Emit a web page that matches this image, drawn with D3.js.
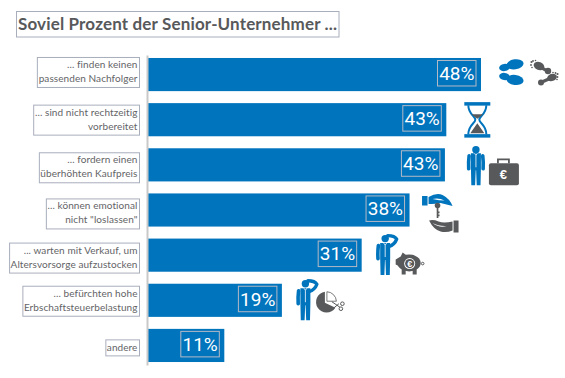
<!DOCTYPE html>
<html>
<head>
<meta charset="utf-8">
<script src="https://cdn.jsdelivr.net/npm/d3@7"></script>
<style>
html, body { margin: 0; padding: 0; background: #fff; }
svg { display: block; }
</style>
</head>
<body>
<div class="container"></div>
<script>
const WIDTH = 565;
const HEIGHT = 378;
const BLUE = '#0074bd';
const GREY = '#58595b';
const FRAME = '#a9aebd';

const title = 'Soviel Prozent der Senior-Unternehmer ...';

const categories = [
  '... finden keinen\npassenden Nachfolger',
  '... sind nicht rechtzeitig\nvorbereitet',
  '... fordern einen\nüberhöhten Kaufpreis',
  '... können emotional\nnicht "loslassen"',
  '... warten mit Verkauf, um\nAltersvorsorge aufzustocken',
  '... befürchten hohe\nErbschaftsteuerbelastung',
  'andere'
];
// bar lengths, the labels are these rounded
const values = [48, 43, 42.8, 37.7, 30.8, 19.3, 11];

// the label frames do not sit centred on the bars
const labelShift = [-0.5, 2, 4.5, 5.5, 4.5, 2.5, 11];

var x = d3.scaleLinear().domain([0, 48]).range([148, 481]);

var y = d3.scaleBand()
    .domain(categories)
    .range([55, 365])
    .paddingInner(0.266)
    .paddingOuter(0.066);

var translate = function(a, b) {
    return 'translate(' + a + ',' + b + ')';
};

var svg = d3.select('.container').append('svg')
    .attr('width', WIDTH)
    .attr('height', HEIGHT);

// title
svg.append('rect')
    .attr('x', 16.5).attr('y', 11.5)
    .attr('width', 322.5).attr('height', 25.5)
    .attr('fill', 'none').attr('stroke', FRAME);

svg.append('text')
    .attr('x', 18).attr('y', 30)
    .attr('textLength', 319)
    .attr('lengthAdjust', 'spacing')
    .attr('font-family', 'Lato')
    .attr('font-weight', 700)
    .attr('font-size', 17)
    .attr('fill', GREY)
    .text(title);

// bars
var rows = svg.selectAll('g.row')
    .data(categories)
    .join('g')
    .attr('class', 'row')
    .attr('transform', function(c) { return translate(0, y(c)); });

rows.append('rect')
    .attr('x', x(0))
    .attr('width', function(c, i) { return x(values[i]) - x(0); })
    .attr('height', y.bandwidth())
    .attr('fill', BLUE);

// percent labels with their frame
rows.append('rect')
    .attr('x', function(c, i) { return x(values[i]) - 43.5; })
    .attr('y', 2.5)
    .attr('width', 38.5)
    .attr('height', 25.5)
    .attr('fill', 'none')
    .attr('stroke', '#b4b9c6');

rows.append('text')
    .attr('x', function(c, i) { return x(values[i]) - 24.2; })
    .attr('y', 21.8)
    .attr('text-anchor', 'middle')
    .attr('font-family', 'Roboto')
    .attr('font-size', 19)
    .attr('fill', '#fff')
    .text(function(c, i) { return Math.round(values[i]) + '%'; });

// category labels, right aligned, frame fitted to the text
rows.each(function(c, i) {
    var lines = c.split('\n');
    var g = d3.select(this).append('g').attr('transform', translate(0, labelShift[i]));
    var t = g.append('text')
        .attr('text-anchor', 'end')
        .attr('font-family', 'Lato')
        .attr('font-size', 10)
        .attr('letter-spacing', 0.08)
        .attr('fill', '#636466');
    lines.forEach(function(line, k) {
        t.append('tspan')
            .attr('x', 137.5)
            .attr('y', lines.length > 1 ? 10.5 + k * 14 : 11.5)
            .text(line);
    });
    var w = t.node().getBBox().width;
    g.insert('rect', 'text')
        .attr('x', 139.5 - w - 3)
        .attr('y', 0)
        .attr('width', w + 3)
        .attr('height', lines.length > 1 ? 30 : 16)
        .attr('fill', 'none')
        .attr('stroke', FRAME);
});

// vertical axis, only the line is visible
var yAxis = d3.axisLeft(y).tickSize(0).tickFormat('');
var axisG = svg.append('g').attr('transform', translate(147, 0)).call(yAxis);
axisG.select('.domain').attr('stroke', '#c9c9c9').attr('stroke-width', 2);

// --- pictograms, drawn relative to the end of their bar ---

var man = function(g) {
    // shoulders, torso and legs, 0,0 is the middle of the neck
    g.append('path').attr('fill', BLUE)
        .attr('d', 'M-5,0 h10 v15 l-0.4,17 h-3.8 l-0.6,-15 h-0.4 l-0.6,15 h-3.8 l-0.4,-17 z');
    // tie
    g.append('path').attr('fill', 'none').attr('stroke', '#fff').attr('stroke-width', 0.8)
        .attr('d', 'M-1.5,0 l1.5,2 v12 M1.5,0 l-1.5,2');
};

var leftArm = function(g) {
    g.append('path').attr('fill', 'none').attr('stroke', BLUE).attr('stroke-width', 3.6)
        .attr('stroke-linecap', 'round')
        .attr('d', 'M-6.8,2.5 q-0.8,6 -0.4,13');
};

var rightArm = function(g) {
    g.append('path').attr('fill', 'none').attr('stroke', BLUE).attr('stroke-width', 3.6)
        .attr('stroke-linecap', 'round')
        .attr('d', 'M6.8,2.5 q0.8,6 0.4,13');
};

var thinkingMan = function(g) {
    var body = g.append('g').attr('transform', translate(23.5, 4.5));
    man(body);
    leftArm(body);
    g.append('circle').attr('cx', 23.5).attr('cy', 0).attr('r', 3.7).attr('fill', BLUE);
    // raised arm, hand behind the head
    g.append('path').attr('fill', 'none').attr('stroke', BLUE).attr('stroke-width', 3.4)
        .attr('stroke-linecap', 'round').attr('stroke-linejoin', 'round')
        .attr('d', 'M27,8 Q33,6 35,0.5 Q33,-3 26,-3');
};

var euro = function(g, cx, cy, size) {
    g.append('text').attr('x', cx).attr('y', cy + size * 0.36)
        .attr('text-anchor', 'middle')
        .attr('font-family', 'Liberation Sans')
        .attr('font-weight', 700)
        .attr('font-size', size)
        .attr('fill', '#fff')
        .text('€');
};

var icons = [
    function footprints(g) {
        [[34, 6.3, -8, 23.5, 9.5], [34, 22, 8, 23.5, 18.5]].forEach(function(s) {
            g.append('ellipse').attr('rx', 8.6).attr('ry', 5).attr('fill', BLUE)
                .attr('transform', translate(s[0], s[1]) + ' rotate(' + s[2] + ')');
            g.append('ellipse').attr('rx', 5.4).attr('ry', 3.6).attr('fill', BLUE)
                .attr('transform', translate(s[3], s[4]) + ' rotate(' + s[2] + ')');
        });
        g.append('ellipse').attr('rx', 5.5).attr('ry', 4).attr('fill', GREY)
            .attr('transform', translate(58, 8) + ' rotate(20)');
        g.append('ellipse').attr('rx', 5).attr('ry', 3.6).attr('fill', GREY)
            .attr('transform', translate(71, 19.5) + ' rotate(-20)');
        g.append('circle').attr('cx', 67).attr('cy', 13).attr('r', 3.2).attr('fill', GREY);
        g.append('circle').attr('cx', 60).attr('cy', 24.5).attr('r', 3).attr('fill', GREY);
        g.append('path').attr('fill', 'none').attr('stroke', GREY).attr('stroke-width', 3.2)
            .attr('d', 'M59,9 L66,13 M70,20 L61,24');
        [[50.5, 4, 1.1], [50, 7, 0.9], [51, 9.5, 0.8], [52, 3, 0.9], [54.5, 2.5, 0.8],
         [76.5, 16, 1.1], [76.5, 19, 0.9], [76, 21.5, 0.8], [74.5, 15, 0.9], [72, 14.5, 0.8]].forEach(function(d) {
            g.append('circle').attr('cx', d[0]).attr('cy', d[1]).attr('r', d[2]).attr('fill', GREY);
        });
    },
    function hourglass(g) {
        g.append('rect').attr('x', 18).attr('y', -1).attr('width', 26).attr('height', 3.5).attr('fill', BLUE);
        g.append('rect').attr('x', 18).attr('y', 31).attr('width', 26).attr('height', 3.5).attr('fill', BLUE);
        g.append('path').attr('fill', 'none').attr('stroke', BLUE).attr('stroke-width', 2)
            .attr('d', 'M22,2 C22,11 29,13 29,16.5 C29,20 22,22 22,31 M40,2 C40,11 33,13 33,16.5 C33,20 40,22 40,31');
        g.append('path').attr('fill', GREY)
            .attr('d', 'M25,11 H37 L31,15.5 Z M24,30 L31,20 L38,30 Z');
    },
    function manWithCase(g) {
        var body = g.append('g').attr('transform', translate(31, 5));
        man(body);
        leftArm(body);
        rightArm(body);
        g.append('circle').attr('cx', 31).attr('cy', 1.5).attr('r', 3.7).attr('fill', BLUE);
        g.append('rect').attr('x', 44).attr('y', 15).attr('width', 30).attr('height', 22).attr('rx', 2).attr('fill', GREY);
        g.append('path').attr('fill', 'none').attr('stroke', GREY).attr('stroke-width', 1.8)
            .attr('d', 'M53,15 V11 H64 V15');
        euro(g, 58.5, 26.5, 13);
    },
    function keyHandover(g) {
        g.append('path').attr('fill', BLUE)
            .attr('d', 'M12.5,2.5 H18 V12 H12.5 Z M19,3.5 Q27,-1 33,1.5 Q40,5 43,12.5 Q37,11 31,9.5 Q25,11 19,10.5 Z');
        g.append('path').attr('fill', '#fff').attr('d', 'M23,5.5 Q29,4 35,7 Q30,7 23,5.5 Z');
        g.append('circle').attr('cx', 28).attr('cy', 12).attr('r', 2.8).attr('fill', GREY);
        g.append('path').attr('fill', 'none').attr('stroke', GREY).attr('stroke-width', 1.7)
            .attr('d', 'M28,13 V24.5 M28,19 h2 M28,22 h2');
        g.append('path').attr('fill', GREY)
            .attr('d', 'M44,27 H49 V39 H44 Z M43,28 Q34,30 29,28 Q24,26 19.5,27 Q24,36 31,38 Q37,39.5 43,37 Z');
        g.append('path').attr('fill', '#fff').attr('d', 'M23,29.5 Q29,33 37,32.5 Q30,35 23,29.5 Z');
    },
    function manAndPig(g) {
        thinkingMan(g);
        g.append('ellipse').attr('cx', 47.5).attr('cy', 24.5).attr('rx', 11.5).attr('ry', 8.5).attr('fill', GREY);
        g.append('path').attr('fill', GREY)
            .attr('d', 'M34,21 L39,18 L41,14 L45,17 L39,30 L36,27 L34,26 Z M40,30 h4 v6 h-4 Z M51,30 h4 v6 h-4 Z');
        g.append('circle').attr('cx', 61).attr('cy', 25).attr('r', 1.3).attr('fill', 'none').attr('stroke', GREY);
        g.append('circle').attr('cx', 48).attr('cy', 25).attr('r', 5.5).attr('fill', '#fff');
        g.append('circle').attr('cx', 48).attr('cy', 25).attr('r', 4.6).attr('fill', GREY);
        euro(g, 48, 25, 9);
    },
    function manAndPie(g) {
        thinkingMan(g);
        g.append('path').attr('fill', GREY)
            .attr('d', 'M43,8 A10.5,10.5 0 1 0 53.5,24 L43,19 Z');
        g.append('path').attr('fill', 'none').attr('stroke', GREY).attr('stroke-width', 0.8)
            .attr('d', 'M45,8 A10,10 0 0 1 54.5,17.5 H45 Z');
        g.append('path').attr('fill', 'none').attr('stroke', GREY).attr('stroke-width', 1)
            .attr('d', 'M50,18 L58,23.5 M51,25 L57,20');
        g.append('circle').attr('cx', 60.5).attr('cy', 20).attr('r', 1.8).attr('fill', 'none').attr('stroke', GREY);
        g.append('circle').attr('cx', 59).attr('cy', 25).attr('r', 1.8).attr('fill', 'none').attr('stroke', GREY);
    }
];

icons.forEach(function(draw, i) {
    var g = svg.append('g')
        .attr('transform', translate(x(values[i]), y(categories[i])));
    draw(g);
});
</script>
</body>
</html>
